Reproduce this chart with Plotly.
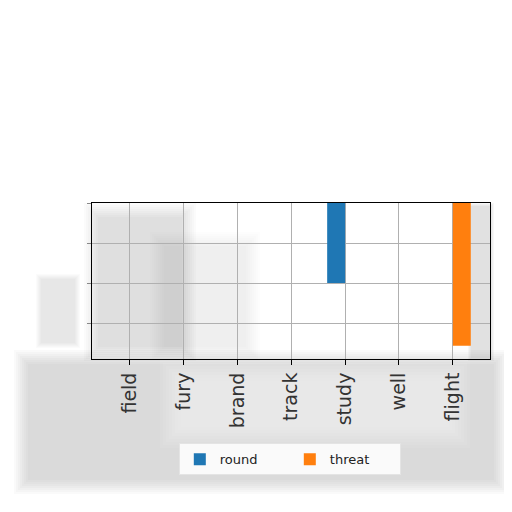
import plotly.graph_objects as go

# categories on the x axis
words = ['field', 'fury', 'brand', 'track', 'study', 'well', 'flight']

# series values (y axis runs downward from 0)
round_vals = [0, 0, 0, 0, 2.0, 0, 0]
threat_vals = [0, 0, 0, 0, 0, 0, 3.57]

fig = go.Figure()
fig.add_trace(go.Bar(x=words, y=round_vals, name='round', marker_color='#1f77b4',
                     marker_line_width=0))
fig.add_trace(go.Bar(x=words, y=threat_vals, name='threat', marker_color='#ff7f0e',
                     marker_line_width=0))

# page has an 8px body margin; plot area on the page: left 92, right 490, top 203, bottom 359
def px2paper(x0, y0, x1, y1):
    return dict(x0=(x0 - 92) / 398, x1=(x1 - 92) / 398,
                y0=(359 - y0) / 156, y1=(359 - y1) / 156)

# soft grey smudges of the reference (nested rects fake a blurred edge)
def smudge(x0, y0, x1, y1, rgb, alpha, steps=8, pad=2):
    for i in range(steps):
        fig.add_shape(type='rect', xref='paper', yref='paper', layer='below',
                      line_width=0, fillcolor='rgba(%s,%.3f)' % (rgb, alpha / steps),
                      **px2paper(x0 + i * pad, y0 + i * pad, x1 - i * pad, y1 - i * pad))

smudge(14, 350, 508, 494, '140,140,140', 0.38)
smudge(160, 360, 470, 448, '255,255,255', 0.6, pad=3)
smudge(84, 203, 196, 361, '120,120,120', 0.26)
smudge(150, 232, 260, 361, '120,120,120', 0.12)
smudge(468, 203, 494, 361, '120,120,120', 0.25, steps=4, pad=1)
smudge(36, 274, 80, 348, '160,160,160', 0.25, steps=6, pad=1)

fig.update_layout(
    width=512, height=512,
    margin=dict(l=84, r=30, t=195, b=161),
    barmode='group', bargap=1/3, bargroupgap=0,
    plot_bgcolor='white', paper_bgcolor='white',
    font=dict(family='DejaVu Sans', color='#333333'),
    showlegend=True,
    legend=dict(orientation='h', x=0.497, xanchor='center', y=-0.54, yanchor='top',
                font=dict(size=13, color='#222222'), entrywidth=65,
                bgcolor='rgba(255,255,255,0.85)', bordercolor='#e4e4e4', borderwidth=1),
)
fig.update_xaxes(
    range=[-0.7, 6.69], tickangle=-90, tickfont=dict(size=19), automargin=False,
    showgrid=True, gridcolor='#b0b0b0', gridwidth=1,
    showline=True, linecolor='black', linewidth=1, mirror=True,
    ticks='outside', ticklen=5, tickcolor='black',
)
fig.update_yaxes(
    range=[3.9, 0], dtick=1, showticklabels=False, automargin=False,
    showgrid=True, gridcolor='#b0b0b0', gridwidth=1, zeroline=False,
    showline=True, linecolor='black', linewidth=1, mirror=True,
    ticks='outside', ticklen=4, tickcolor='#888888',
)

fig.write_html('out.html')
